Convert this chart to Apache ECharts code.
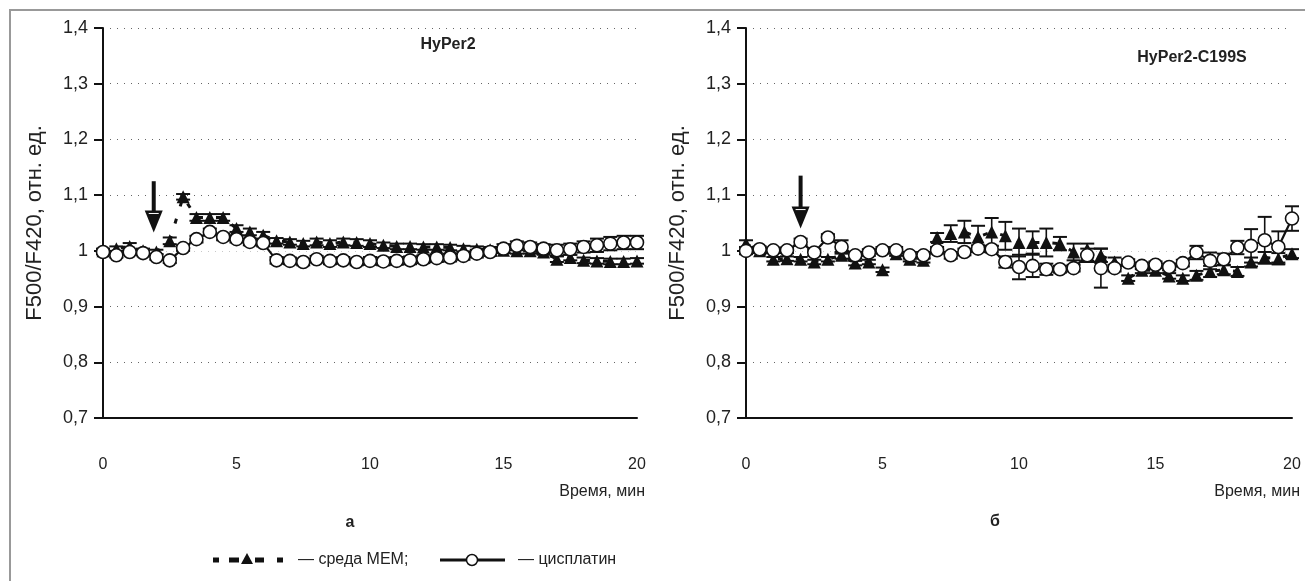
<!DOCTYPE html>
<html><head><meta charset="utf-8">
<script src="https://cdn.jsdelivr.net/npm/echarts@6/dist/echarts.min.js"></script>
<style>html,body{margin:0;padding:0;background:#fff}#c{width:1305px;height:581px}</style>
</head><body><div id="c"></div>
<script>
// ---- data ----
const time = [0,0.5,1,1.5,2,2.5,3,3.5,4,4.5,5,5.5,6,6.5,7,7.5,8,8.5,9,9.5,10,10.5,11,11.5,12,12.5,13,13.5,14,14.5,15,15.5,16,16.5,17,17.5,18,18.5,19,19.5,20];
const yTickLabels = ['0,7','0,8','0,9','1','1,1','1,2','1,3','1,4'];
const xTickLabels = ['0','5','10','15','20'];
// panel а: HyPer2
const memA = [1.0,1.004,1.008,1.0,0.998,1.018,1.097,1.06,1.06,1.06,1.04,1.034,1.028,1.018,1.016,1.013,1.016,1.013,1.016,1.015,1.013,1.01,1.008,1.008,1.007,1.007,1.006,1.004,1.003,1.002,1.001,1.0,1.0,0.998,0.985,0.988,0.983,0.982,0.981,0.981,0.982];
const memAErr = [0.004,0.004,0.006,0.004,0.004,0.006,0.005,0.006,0.006,0.006,0.006,0.006,0.006,0.005,0.005,0.005,0.006,0.006,0.006,0.006,0.006,0.005,0.005,0.005,0.005,0.005,0.005,0.005,0.005,0.005,0.005,0.005,0.005,0.005,0.005,0.005,0.005,0.005,0.005,0.005,0.005];
const cisA = [0.998,0.992,0.998,0.996,0.989,0.983,1.005,1.021,1.034,1.025,1.021,1.016,1.014,0.983,0.982,0.98,0.985,0.982,0.983,0.98,0.982,0.981,0.982,0.983,0.985,0.987,0.988,0.991,0.995,0.998,1.004,1.009,1.007,1.004,1.001,1.003,1.007,1.01,1.013,1.015,1.015];
const cisAErr = [0.004,0.004,0.004,0.004,0.005,0.005,0.005,0.006,0.006,0.006,0.006,0.006,0.006,0.006,0.006,0.006,0.006,0.006,0.006,0.006,0.007,0.007,0.007,0.007,0.007,0.007,0.007,0.007,0.007,0.007,0.008,0.008,0.008,0.008,0.01,0.01,0.01,0.012,0.012,0.012,0.012];
// panel б: HyPer2-C199S
const memB = [1.013,1.0,0.985,0.986,0.985,0.98,0.985,0.992,0.978,0.98,0.966,0.995,0.985,0.983,1.024,1.031,1.034,1.025,1.034,1.027,1.015,1.015,1.015,1.013,0.998,1.003,0.992,0.98,0.951,0.965,0.965,0.955,0.951,0.956,0.963,0.966,0.963,0.98,0.988,0.986,0.995];
const memBErr = [0.006,0.004,0.004,0.004,0.004,0.004,0.004,0.006,0.004,0.004,0.004,0.004,0.004,0.004,0.008,0.015,0.02,0.02,0.025,0.025,0.025,0.02,0.025,0.012,0.015,0.01,0.012,0.008,0.005,0.005,0.005,0.005,0.005,0.008,0.01,0.008,0.008,0.008,0.01,0.01,0.008];
const cisB = [1.0,1.003,1.001,1.001,1.016,0.997,1.024,1.007,0.992,0.997,1.001,1.001,0.992,0.992,1.001,0.992,0.998,1.004,1.003,0.98,0.971,0.973,0.967,0.967,0.969,0.992,0.969,0.969,0.979,0.973,0.975,0.971,0.978,0.997,0.982,0.985,1.006,1.009,1.019,1.007,1.058];
const cisBErr = [0.006,0.005,0.005,0.005,0.006,0.006,0.006,0.012,0.006,0.006,0.006,0.006,0.006,0.006,0.006,0.006,0.006,0.006,0.006,0.01,0.022,0.02,0.01,0.006,0.006,0.012,0.035,0.006,0.006,0.006,0.006,0.006,0.006,0.012,0.015,0.01,0.012,0.03,0.042,0.028,0.022];
// arrows (time, top value, tip value)
const arrowA = [1.9, 1.125, 1.033];
const arrowB = [2.0, 1.135, 1.04];

const titles = ['HyPer2', 'HyPer2-C199S'];
const panelLabels = ['а', 'б'];
const yName = 'F500/F420, отн. ед.';
const xName = 'Время, мин';
const legendNames = ['— среда МЕМ;', '— цисплатин'];

// ---- build ----
const pts = (v) => time.map((t, i) => [t, v[i]]);
const errs = (v, e) => time.map((t, i) => [t, v[i] - e[i], v[i] + e[i]]);
const FONT = 'Liberation Sans, Arial, sans-serif';

function errItem(params, api) {
  const x = api.value(0);
  const pLo = api.coord([x, api.value(1)]);
  const pHi = api.coord([x, api.value(2)]);
  const w = 7;
  return { type: 'group', children: [
    { type: 'line', shape: { x1: pLo[0], y1: pLo[1], x2: pHi[0], y2: pHi[1] }, style: { stroke: '#111', lineWidth: 1.6 } },
    { type: 'line', shape: { x1: pHi[0] - w, y1: pHi[1], x2: pHi[0] + w, y2: pHi[1] }, style: { stroke: '#111', lineWidth: 2 } },
    { type: 'line', shape: { x1: pLo[0] - w, y1: pLo[1], x2: pLo[0] + w, y2: pLo[1] }, style: { stroke: '#111', lineWidth: 2 } }
  ]};
}

function xAxis(gi) {
  return {
    type: 'value', gridIndex: gi, min: 0, max: 20, interval: 5,
    axisLine: { show: true, onZero: false, lineStyle: { color: '#111', width: 2 } },
    axisTick: { show: false },
    splitLine: { show: false },
    axisLabel: { color: '#222', fontSize: 16, fontFamily: FONT, margin: 39,
      formatter: (v) => xTickLabels[Math.round(v / 5)] }
  };
}
function yAxis(gi) {
  return {
    type: 'value', gridIndex: gi, min: 0.7, max: 1.4, interval: 0.1,
    axisLine: { show: true, lineStyle: { color: '#111', width: 2 } },
    axisTick: { show: true, inside: false, length: 9, lineStyle: { color: '#111', width: 2 } },
    splitLine: { show: true, lineStyle: { color: ['#666', '#666', '#666', '#c8c8c8', '#666', '#666', '#666', '#666'], type: [1, 6], width: 1 } },
    axisLabel: { color: '#222', fontSize: 18, fontFamily: FONT, margin: 15,
      formatter: (v) => yTickLabels[Math.round((v - 0.7) * 10)] },
    name: yName, nameLocation: 'middle', nameRotate: 90, nameGap: 57,
    nameTextStyle: { color: '#222', fontSize: 22, fontFamily: FONT }
  };
}
function panelSeries(gi, mem, memErr, cis, cisErr) {
  return [
    { type: 'custom', xAxisIndex: gi, yAxisIndex: gi, renderItem: errItem, data: errs(cis, cisErr), z: 2, silent: true },
    { type: 'custom', xAxisIndex: gi, yAxisIndex: gi, renderItem: errItem, data: errs(mem, memErr), z: 2, silent: true },
    { type: 'line', name: 'cis', xAxisIndex: gi, yAxisIndex: gi, data: pts(cis), symbol: 'circle', symbolSize: 13,
      lineStyle: { color: '#111', width: 2.2 }, itemStyle: { color: '#fff', borderColor: '#111', borderWidth: 1.6 }, z: 4, animation: false },
    { type: 'line', name: 'mem', xAxisIndex: gi, yAxisIndex: gi, data: pts(mem), symbol: 'triangle', symbolSize: 13,
      lineStyle: { color: '#111', width: 3, type: [5, 13] }, itemStyle: { color: '#111' }, z: 3, animation: false }
  ];
}

const chart = echarts.init(document.getElementById('c'), null, { renderer: 'canvas' });
const option = {
  animation: false,
  backgroundColor: '#fff',
  grid: [
    { left: 103, width: 534, top: 28, height: 390 },
    { left: 746, width: 546, top: 28, height: 390 }
  ],
  xAxis: [xAxis(0), xAxis(1)],
  yAxis: [yAxis(0), yAxis(1)],
  series: [
    ...panelSeries(0, memA, memAErr, cisA, cisAErr),
    ...panelSeries(1, memB, memBErr, cisB, cisBErr)
  ]
};
chart.setOption(option);

function arrow(gi, a) {
  const top = chart.convertToPixel({ xAxisIndex: gi, yAxisIndex: gi }, [a[0], a[1]]);
  const tip = chart.convertToPixel({ xAxisIndex: gi, yAxisIndex: gi }, [a[0], a[2]]);
  const hh = 22, hw = 9;
  return { type: 'group', z: 10, children: [
    { type: 'rect', shape: { x: top[0] - 2, y: top[1], width: 4, height: tip[1] - top[1] - hh + 2 }, style: { fill: '#111' } },
    { type: 'polygon', shape: { points: [[tip[0] - hw, tip[1] - hh], [tip[0] + hw, tip[1] - hh], [tip[0], tip[1]]] }, style: { fill: '#111' } },
    { type: 'line', shape: { x1: tip[0] - hw + 4, y1: tip[1] - hh + 3, x2: tip[0] + hw - 4, y2: tip[1] - hh + 3 }, style: { stroke: '#fff', lineWidth: 1 } }
  ]};
}

const txt = (x, y, s, o) => Object.assign({ type: 'text', x, y, z: 10,
  style: Object.assign({ text: s, fill: '#222', font: '16px ' + FONT, textAlign: 'center', textVerticalAlign: 'middle' }, o || {}) });

const LY = 560;
chart.setOption({ graphic: [
  { type: 'rect', z: 0, shape: { x: 10, y: 10, width: 1400, height: 700 }, style: { fill: 'none', stroke: '#999', lineWidth: 2 } },
  arrow(0, arrowA), arrow(1, arrowB),
  txt(448, 45, titles[0], { font: 'bold 16px ' + FONT }),
  txt(1192, 58, titles[1], { font: 'bold 16px ' + FONT }),
  txt(645, 492, xName, { textAlign: 'right' }),
  txt(1300, 492, xName, { textAlign: 'right' }),
  txt(350, 523, panelLabels[0], { font: 'bold 16px ' + FONT }),
  txt(995, 522, panelLabels[1], { font: 'bold 16px ' + FONT }),
  // legend: dashed line with triangle
  { type: 'rect', shape: { x: 213, y: LY - 2.5, width: 6, height: 5 }, style: { fill: '#111' } },
  { type: 'rect', shape: { x: 229, y: LY - 2.5, width: 10, height: 5 }, style: { fill: '#111' } },
  { type: 'polygon', shape: { points: [[241, LY + 4], [253, LY + 4], [247, LY - 7]] }, style: { fill: '#111' } },
  { type: 'rect', shape: { x: 255, y: LY - 2.5, width: 9, height: 5 }, style: { fill: '#111' } },
  { type: 'rect', shape: { x: 277, y: LY - 2.5, width: 6, height: 5 }, style: { fill: '#111' } },
  txt(298, LY, legendNames[0], { textAlign: 'left' }),
  // legend: solid line with circle
  { type: 'line', shape: { x1: 440, y1: LY, x2: 505, y2: LY }, style: { stroke: '#111', lineWidth: 3 } },
  { type: 'circle', shape: { cx: 472, cy: LY, r: 5.5 }, style: { fill: '#fff', stroke: '#111', lineWidth: 1.5 } },
  txt(518, LY, legendNames[1], { textAlign: 'left' })
]});
</script>
</body></html>
